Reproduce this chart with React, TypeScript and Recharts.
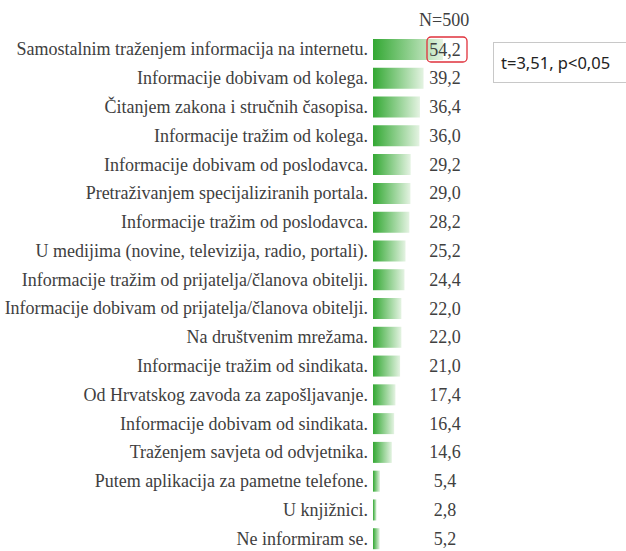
import { BarChart, Bar, XAxis, YAxis, LabelList } from 'recharts'

const CATEGORIES = [
  'Samostalnim traženjem informacija na internetu.',
  'Informacije dobivam od kolega.',
  'Čitanjem zakona i stručnih časopisa.',
  'Informacije tražim od kolega.',
  'Informacije dobivam od poslodavca.',
  'Pretraživanjem specijaliziranih portala.',
  'Informacije tražim od poslodavca.',
  'U medijima (novine, televizija, radio, portali).',
  'Informacije tražim od prijatelja/članova obitelji.',
  'Informacije dobivam od prijatelja/članova obitelji.',
  'Na društvenim mrežama.',
  'Informacije tražim od sindikata.',
  'Od Hrvatskog zavoda za zapošljavanje.',
  'Informacije dobivam od sindikata.',
  'Traženjem savjeta od odvjetnika.',
  'Putem aplikacija za pametne telefone.',
  'U knjižnici.',
  'Ne informiram se.',
]

const VALUES = [54.2, 39.2, 36.4, 36.0, 29.2, 29.0, 28.2, 25.2, 24.4, 22.0, 22.0, 21.0, 17.4, 16.4, 14.6, 5.4, 2.8, 5.2]

const SAMPLE_LABEL = 'N=500'
const TEST_LABEL = 't=3,51, p<0,05'

const data = CATEGORIES.map((name, i) => ({ name, value: VALUES[i] }))

const TEXT = '#404040'
const SERIF = '"Liberation Serif", "Times New Roman", serif'

function CategoryTick(props: any) {
  const { x, y, payload } = props
  return (
    <text x={x} y={y} textAnchor="end" dominantBaseline="central" fill={TEXT} fontSize={18} fontFamily={SERIF}>
      {payload.value}
    </text>
  )
}

function ValueLabel(props: any) {
  const { x, y, height, value, index } = props
  const cx = x + 72
  const cy = y + height / 2
  return (
    <g>
      {index === 0 && (
        <rect x={cx - 18} y={y - 2} width={40} height={height + 4} rx={4} fill="none" stroke="#e0323c" strokeWidth={1.3} />
      )}
      <text x={cx} y={cy} textAnchor="middle" dominantBaseline="central" fill={TEXT} fontSize={18} fontFamily={SERIF}>
        {Number(value).toFixed(1).replace('.', ',')}
      </text>
    </g>
  )
}

export default function App() {
  return (
    <div style={{ position: 'absolute', left: 0, top: 0, width: 626, height: 551, overflow: 'hidden', background: '#fff' }}>
      <div style={{ position: 'absolute', left: 419, top: 10, fontFamily: SERIF, fontSize: 18, color: TEXT }}>
        {SAMPLE_LABEL}
      </div>
      <div
        style={{
          position: 'absolute',
          left: 493,
          top: 42,
          width: 140,
          height: 41,
          border: '1px solid #c8c8c8',
          boxSizing: 'border-box',
          fontFamily: '"Noto Sans", sans-serif',
          fontSize: 16.5,
          color: '#222',
          paddingLeft: 7,
          lineHeight: '39px',
        }}
      >
        {TEST_LABEL}
      </div>
      <BarChart
        width={626}
        height={553}
        data={data}
        layout="vertical"
        margin={{ top: 35, right: 124, bottom: 0, left: 0 }}
      >
        <defs>
          <linearGradient id="barGrad" x1="0" y1="0" x2="1" y2="0">
            <stop offset="0%" stopColor="#33a833" />
            <stop offset="100%" stopColor="#e4f3e2" />
          </linearGradient>
        </defs>
        <XAxis type="number" domain={[0, 100]} hide />
        <YAxis
          type="category"
          dataKey="name"
          width={373}
          axisLine={false}
          tickLine={false}
          tickSize={0}
          tickMargin={5}
          interval={0}
          tick={<CategoryTick />}
        />
        <Bar dataKey="value" fill="url(#barGrad)" barSize={21} isAnimationActive={false}>
          <LabelList dataKey="value" content={ValueLabel} />
        </Bar>
      </BarChart>
    </div>
  )
}
